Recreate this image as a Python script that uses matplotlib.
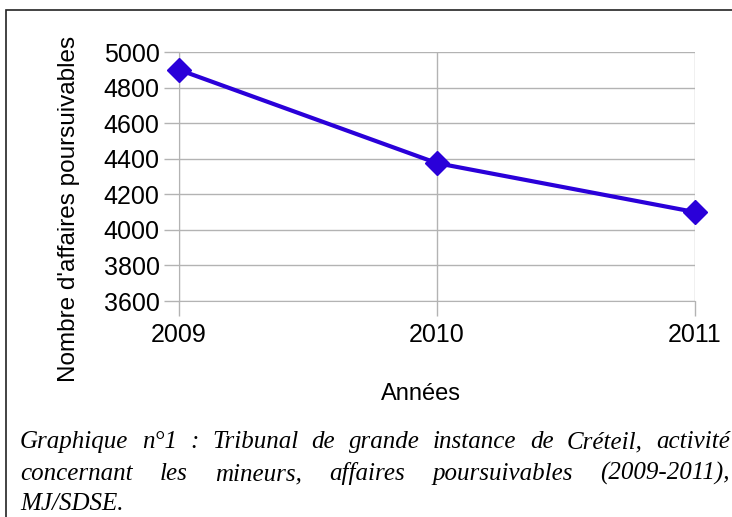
import matplotlib
matplotlib.use("Agg")
import matplotlib.pyplot as plt
from matplotlib.patches import Rectangle

years = [2009, 2010, 2011]
values = [4900, 4375, 4100]
yticks = [3600, 3800, 4000, 4200, 4400, 4600, 4800, 5000]
xlabel = "Années"
ylabel = "Nombre d'affaires poursuivables"
caption_lines = [
    "Graphique n°1 : Tribunal de grande instance de Créteil, activité",
    "concernant les mineurs, affaires poursuivables (2009-2011),",
    "MJ/SDSE.",
]

W, H = 732, 517
fig = plt.figure(figsize=(W / 100, H / 100), dpi=100)
plt.rcParams['font.family'] = ['Liberation Sans', 'DejaVu Sans']

# outer frame
fig.patches.append(Rectangle((6 / W, -0.1), 2, 1.1 - 10 / H, transform=fig.transFigure,
                             fill=False, edgecolor='#222222', linewidth=1.2))

left, right, top, bottom = 179, 695, 52, 301
ax = fig.add_axes([left / W, 1 - bottom / H, (right - left) / W, (bottom - top) / H])
ax.plot(years, values, color='#2a00d9', linewidth=3, marker='D', markersize=12,
        markeredgecolor='#2a00d9', markerfacecolor='#2a00d9', zorder=3, clip_on=False)
ax.set_xlim(2009, 2011)
ax.set_ylim(3600, 5000)
ax.set_xticks(years)
ax.set_xticklabels([str(y) for y in years])
ax.set_yticks(yticks)
ax.grid(True, color='#b3b3b3', linewidth=1)
for s in ax.spines.values():
    s.set_visible(False)
ax.spines['left'].set_visible(True)
ax.spines['left'].set_color('#b3b3b3')
ax.spines['bottom'].set_visible(True)
ax.spines['bottom'].set_color('#b3b3b3')
ax.tick_params(axis='both', colors='#b3b3b3', labelcolor='black', labelsize=18,
               length=11, width=1)
ax.tick_params(axis='y', pad=3)
ax.tick_params(axis='x', pad=5)
ax.set_axisbelow(True)

fig.text(421 / W, 1 - 394 / H, xlabel, ha='center', va='center', fontsize=17)
fig.text(69 / W, 1 - 209 / H, ylabel, ha='center', va='center', rotation=90, fontsize=17.5)

# justified caption
fig.canvas.draw()
renderer = fig.canvas.get_renderer()
x0, x1 = 20, 730
ys = [448, 480, 510]
cap_font = dict(family='Liberation Serif', style='italic', fontsize=18)
for i, (line, yy) in enumerate(zip(caption_lines, ys)):
    words = line.split(' ')
    if i == len(caption_lines) - 1:
        fig.text(x0 / W, 1 - yy / H, line, ha='left', va='baseline', **cap_font)
        continue
    widths = []
    for w in words:
        t = fig.text(0, 0, w, **cap_font)
        widths.append(t.get_window_extent(renderer).width)
        t.remove()
    gap = (x1 - x0 - sum(widths)) / (len(words) - 1)
    x = x0
    for w, wd in zip(words, widths):
        fig.text(x / W, 1 - yy / H, w, ha='left', va='baseline', **cap_font)
        x += wd + gap

fig.savefig('out.png', dpi=100)
